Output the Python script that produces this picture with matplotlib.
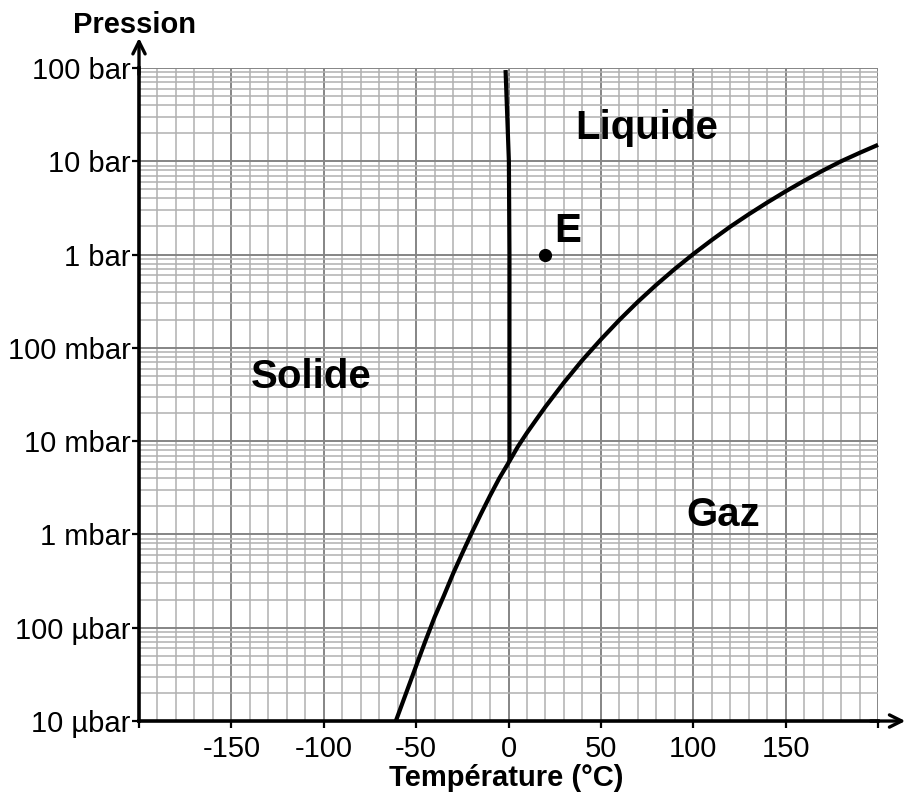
"""
Diagramme de phase de l'eau (pression en échelle log).
"""

import matplotlib.pyplot as plt
from matplotlib.ticker import FixedLocator, MultipleLocator, LogLocator, NullFormatter

# courbe solide/gaz puis liquide/gaz (°C, bar)
temp_curve = [-61, -55, -50, -45, -40, -35, -30, -25, -20, -15, -10, -5, 0.5, 5,
              10, 15, 20, 30, 40, 50, 60, 70, 80, 90, 100, 110, 120, 130, 140,
              150, 160, 170, 180, 190, 200]
pres_curve = [1.0e-5, 2.1e-5, 3.9e-5, 7.2e-5, 1.3e-4, 2.2e-4, 3.8e-4, 6.3e-4,
              1.03e-3, 1.65e-3, 2.6e-3, 4.0e-3, 6.1e-3, 8.7e-3, 1.23e-2, 1.7e-2,
              2.34e-2, 4.25e-2, 7.4e-2, 0.123, 0.199, 0.312, 0.474, 0.701, 1.013,
              1.43, 1.99, 2.70, 3.61, 4.76, 6.18, 7.92, 10.0, 12.3, 15.0]

# courbe solide/liquide
temp_fusion = [0.5, 0.5, 0.2, -1.6]
pres_fusion = [6.1e-3, 1.0, 10.0, 95.0]

# point E
temp_e = 20
pres_e = 1.0

yticks = [1e-5, 1e-4, 1e-3, 1e-2, 1e-1, 1, 10, 100]
ylabels = ['10 µbar', '100 µbar', '1 mbar', '10 mbar', '100 mbar',
           '1 bar', '10 bar', '100 bar']
xticks = [-200, -150, -100, -50, 0, 50, 100, 150, 200]
xlabels = ['', '-150', '-100', '-50', '0', '50', '100', '150', '']

# (texte, T, P)
zones = [('Liquide', 75, 23.0), ('Solide', -107, 0.049), ('Gaz', 116, 1.6e-3)]


def main():
    plt.rcParams['font.family'] = ['Liberation Sans', 'DejaVu Sans']
    fig = plt.figure(figsize=(9.05, 7.96), dpi=100)
    ax = fig.add_axes([0.1536, 0.0942, 0.8166, 0.8204])

    ax.set_yscale('log')
    ax.set_xlim(-200, 200)
    ax.set_ylim(1e-5, 100)

    ax.xaxis.set_major_locator(FixedLocator(xticks))
    ax.set_xticklabels(xlabels)
    ax.xaxis.set_minor_locator(MultipleLocator(10))
    ax.yaxis.set_major_locator(FixedLocator(yticks))
    ax.set_yticklabels(ylabels)
    ax.yaxis.set_minor_locator(LogLocator(base=10, subs=range(2, 10), numticks=50))
    ax.yaxis.set_minor_formatter(NullFormatter())

    ax.grid(True, which='major', color='#858585', lw=1.4)
    ax.grid(True, which='minor', color='#b0b0b0', lw=1.1)
    ax.set_axisbelow(True)

    ax.tick_params(which='major', direction='out', length=5, width=1.6,
                   labelsize=21, pad=1)
    ax.tick_params(axis='x', which='major', pad=5)
    ax.tick_params(which='minor', length=0)

    for side in ['top', 'right']:
        ax.spines[side].set_visible(False)
    for side in ['left', 'bottom']:
        ax.spines[side].set_linewidth(2.6)

    ax.annotate('', xy=(0, 1.046), xytext=(0, 0.99), xycoords='axes fraction',
                arrowprops=dict(arrowstyle='->', lw=2.4, color='k',
                                mutation_scale=22, shrinkA=0, shrinkB=0))
    ax.annotate('', xy=(1.037, 0), xytext=(0.99, 0), xycoords='axes fraction',
                arrowprops=dict(arrowstyle='->', lw=2.4, color='k',
                                mutation_scale=22, shrinkA=0, shrinkB=0))

    ax.plot(temp_curve, pres_curve, color='k', lw=3.0, solid_capstyle='butt',
            solid_joinstyle='round', clip_on=False)
    ax.plot(temp_fusion, pres_fusion, color='k', lw=3.0, solid_capstyle='butt')
    ax.plot([temp_e], [pres_e], 'o', color='k', markersize=8.5)
    ax.text(32, 1.8, 'E', fontsize=29, fontweight='bold', ha='center', va='center')

    for name, t, p in zones:
        ax.text(t, p, name, fontsize=29, fontweight='bold', ha='center', va='center')

    fig.text(0.5594, 0.0226, 'Température (°C)', fontsize=21, fontweight='bold',
             ha='center', va='center')
    fig.text(0.149, 0.969, 'Pression', fontsize=21, fontweight='bold',
             ha='center', va='center')

    fig.savefig('out.png', dpi=100)


if __name__ == '__main__':
    main()
